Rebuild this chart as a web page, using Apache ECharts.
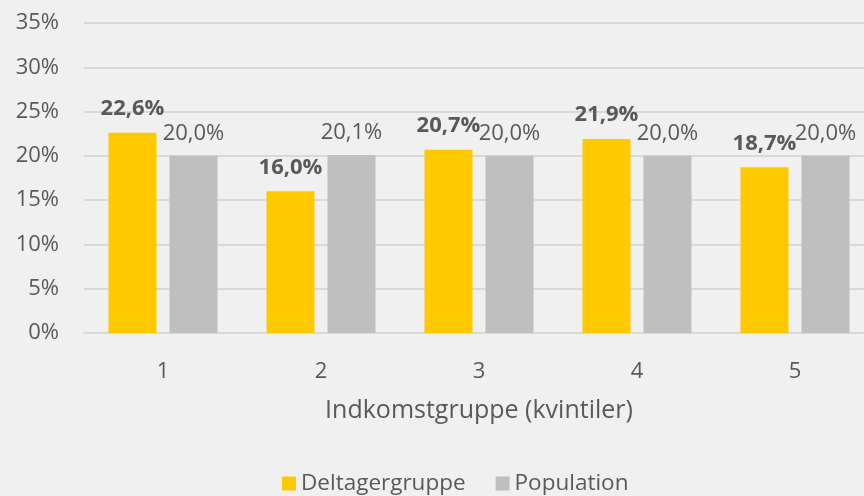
<!DOCTYPE html>
<html>
<head>
<meta charset="utf-8">
<script src="https://cdn.jsdelivr.net/npm/echarts@6/dist/echarts.min.js"></script>
<style>
  html, body { margin: 0; padding: 0; background: #f0f0f0; overflow: hidden; }
  /* plotområdet går lidt ud over højre kant */
  #chart { width: 874px; height: 496px; }
</style>
</head>
<body>
<div id="chart"></div>
<script>
// kvintiler
var categories = ['1', '2', '3', '4', '5'];
var deltager = [22.6, 16.0, 20.7, 21.9, 18.7];
var population = [20.0, 20.1, 20.0, 20.0, 20.0];

var textColor = '#595959';
var font = '"Open Sans", "Noto Sans", sans-serif';

// komma som decimaltegn
function pct(v) {
    return v.toFixed(1).replace('.', ',') + '%';
}

var chart = echarts.init(document.getElementById('chart'));

var option = {
    backgroundColor: '#f0f0f0',
    textStyle: { fontFamily: font },
    grid: { left: 84, right: 0, top: 23, bottom: 163 },
    legend: {
        left: 277,
        bottom: -4,
        itemWidth: 14,
        itemHeight: 14,
        itemGap: 30,
        icon: 'rect',
        textStyle: { color: textColor, fontSize: 22.5, fontFamily: font },
        data: ['Deltagergruppe', 'Population']
    },
    xAxis: {
        type: 'category',
        data: categories,
        name: 'Indkomstgruppe (kvintiler)',
        nameLocation: 'middle',
        nameGap: 65,
        nameTextStyle: { color: textColor, fontSize: 25, fontFamily: font },
        axisLine: { lineStyle: { color: '#d9d9d9', width: 2 } },
        axisTick: { show: false },
        axisLabel: { color: textColor, fontSize: 22, margin: 28, fontFamily: font }
    },
    yAxis: {
        type: 'value',
        min: 0,
        max: 35,
        interval: 5,
        axisLine: { show: false },
        axisTick: { show: false },
        splitLine: { lineStyle: { color: '#d9d9d9', width: 2 } },
        axisLabel: {
            color: textColor,
            fontSize: 22,
            margin: 25,
            fontFamily: font,
            formatter: function (v) { return v + '%'; }
        }
    },
    series: [
        {
            name: 'Deltagergruppe',
            type: 'bar',
            data: deltager,
            barWidth: 48,
            barGap: '27%',
            itemStyle: { color: '#ffc900' },
            label: {
                show: true,
                position: 'top',
                distance: 13,
                color: textColor,
                fontSize: 22,
                fontWeight: 'bold',
                fontFamily: font,
                formatter: function (p) { return pct(p.value); }
            }
        },
        {
            name: 'Population',
            type: 'bar',
            data: population,
            barWidth: 48,
            itemStyle: { color: '#bfbfbf' },
            label: {
                show: true,
                position: 'top',
                distance: 11,
                color: textColor,
                fontSize: 22,
                fontFamily: font,
                formatter: function (p) { return pct(p.value); }
            }
        }
    ]
};

chart.setOption(option);
</script>
</body>
</html>
